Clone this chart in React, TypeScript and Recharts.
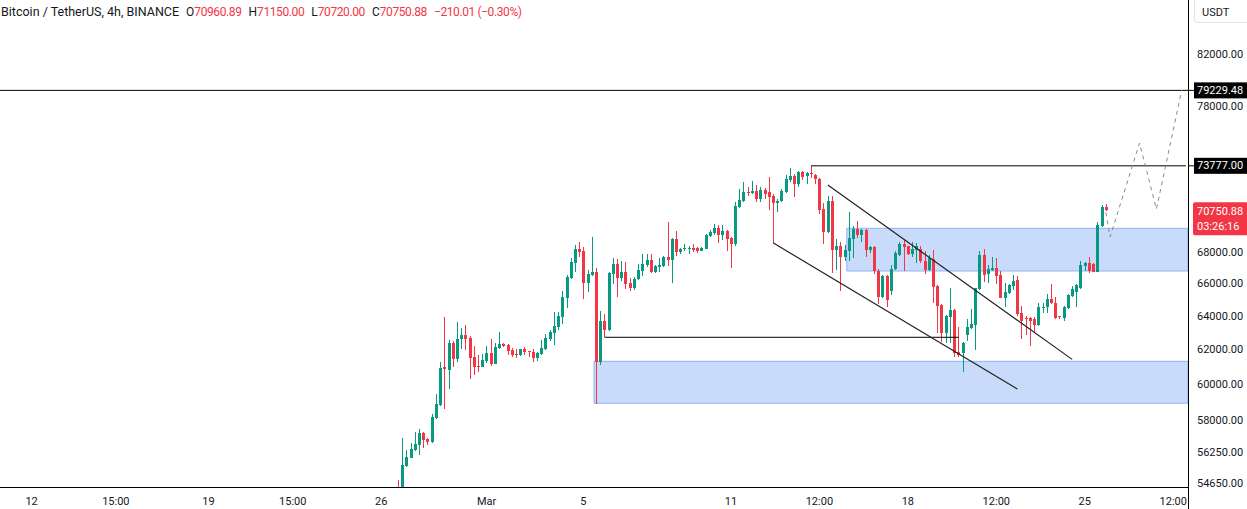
import React from 'react';
import { ComposedChart, Bar, Line, XAxis, YAxis, ReferenceLine, ReferenceArea } from 'recharts';

// ---------- DATA ----------
// 4h candles, first visible candle sits at FIRST_CANDLE_SLOT on the time axis
const FIRST_CANDLE_SLOT = 94;
const SLOT_COUNT = 282;

const OPEN = [
  // 87-117
  54400, 54300, 55550, 55980, 56400, 56660, 57300, 56970, 56820, 58130,
  58850, 61000, 60830, 62420, 61460, 62640, 62890, 62720, 61580, 61060,
  61000, 61340, 61810, 61170, 62100, 62340, 62280, 61990, 61780, 61690,
  62040,
  // 118-150
  61930, 61870, 61520, 61750, 62040, 62640, 62990, 63350, 63950, 65110,
  66350, 67300, 68190, 68070, 66040, 66540, 66730, 61290, 63710, 63170,
  66600, 67235, 66350, 66730, 66040, 65730, 66290, 66790, 67170, 67490,
  66730, 67050, 67110,
  // 151-216
  67680, 67490, 68840, 68000, 68190, 68230, 68260, 68260, 68070, 68190,
  69040, 69230, 69560, 69100, 69370, 68910, 68520, 70960, 71360, 71970,
  71900, 72040, 71500, 72110, 71970, 71700, 71230, 71360, 71970, 72790,
  73070, 72520, 73350, 73070, 73280, 73140, 72860, 70830, 69300, 71360,
  68130, 68390, 67680, 68070, 68840, 69500, 69100, 69430, 68130, 68320,
  66790, 65170, 66480, 65540, 66920, 67810, 68520, 68390, 67870, 68130,
  68190, 67430, 66850, 67550, 65850, 64680,
  // 217-255
  63000, 63970, 64370, 61850, 61790, 62870, 63270, 63450, 65665, 67810,
  66580, 66850, 66960, 66540, 65130, 65400, 65850, 66230, 64210, 63870,
  63870, 63810, 63470, 64540, 64540, 65060, 64790, 63990, 63870, 64480,
  65230, 65510, 65710, 67110, 67320, 67235, 66750, 69720, 70960.89,
];

const HIGH = [
  54800, 57040, 56400, 56750, 57360, 57520, 57350, 57040, 58350, 59460,
  61290, 63950, 62580, 62500, 63650, 63280, 63470, 62800, 62220, 61690,
  61750, 62220, 62640, 62400, 63050, 62400, 62320, 62100, 62040, 62060,
  62160,
  61960, 62040, 61870, 62580, 62930, 63160, 64250, 64250, 65540, 66540,
  67620, 68450, 68650, 68320, 66850, 68970, 66980, 64300, 64130, 66730,
  67620, 67550, 67430, 67360, 66350, 66410, 67235, 67870, 67870, 67870,
  67200, 67620, 67750,
  69960, 68880, 69370, 68260, 68520, 68390, 68520, 68300, 68330, 69170,
  69430, 69830, 69760, 69760, 69430, 68950, 71290, 72170, 72650, 72310,
  72720, 72450, 72310, 72240, 72990, 71830, 71500, 72170, 73140, 73630,
  73200, 73420, 73420, 73320, 73777, 73210, 72900, 71230, 71700, 71700,
  68840, 68650, 68450, 70620, 69690, 70030, 69500, 69480, 68390, 68390,
  66900, 66540, 66540, 67170, 68070, 68650, 68840, 68420, 68650, 68580,
  68390, 68070, 67810, 68130, 65910, 64740,
  64050, 65710, 64420, 63360, 62480, 63850, 64440, 65750, 68070, 68190,
  67170, 67700, 67600, 66790, 66020, 66000, 66540, 66480, 64620, 64010,
  63970, 63930, 64790, 64790, 65330, 65950, 65190, 64010, 64600, 65330,
  65850, 65950, 67450, 67350, 67700, 67320, 69960, 71100, 71150,
];

const LOW = [
  54000, 54100, 55500, 55950, 56350, 56130, 56520, 56660, 56800, 58100,
  58800, 58640, 59740, 61020, 61290, 62040, 61990, 60330, 60550, 60730,
  60980, 61230, 61050, 61150, 62050, 62160, 61690, 61590, 61520, 61640,
  61690,
  61590, 61290, 61360, 61720, 62000, 62520, 62280, 63170, 63530, 64500,
  66300, 66730, 67680, 65050, 65480, 66450, 58930, 61110, 62740, 63100,
  65980, 65170, 66160, 65665, 65540, 65600, 66230, 66480, 67050, 66700,
  66700, 66730, 67050,
  67110, 66040, 67750, 67870, 68060, 67870, 68000, 67940, 68050, 68190,
  68970, 69100, 68580, 68780, 68070, 66980, 68390, 70900, 71290, 71700,
  71830, 71290, 71290, 71500, 70760, 68600, 70620, 71290, 71900, 72650,
  71630, 72310, 72790, 72520, 72920, 72520, 70490, 68520, 69230, 66670,
  66850, 65540, 67430, 67430, 67620, 68910, 68650, 67680, 67940, 66600,
  64740, 65110, 64560, 65290, 66850, 67750, 66790, 67810, 67680, 67300,
  67300, 66600, 66820, 64800, 62990, 62460,
  62380, 62380, 61590, 61590, 60730, 62530, 63230, 61990, 65600, 66120,
  66050, 66790, 65976, 65100, 64540, 65360, 65600, 64010, 62620, 62870,
  62220, 62970, 63440, 64170, 64210, 64740, 63830, 63810, 63720, 64450,
  65150, 64580, 65650, 66800, 66700, 66740, 66740, 69650, 70720,
];

const CLOSE = [
  54200, 55600, 56020, 56450, 56715, 57300, 56930, 56820, 58180, 58900,
  60940, 60900, 62420, 61460, 62640, 62890, 62640, 61520, 61020, 61000,
  61400, 61810, 61170, 62160, 62340, 62220, 61930, 61690, 61720, 62040,
  61870,
  61870, 61520, 61810, 62100, 62700, 63050, 63410, 64010, 65170, 66410,
  67360, 68190, 68000, 66040, 66600, 66730, 61290, 63710, 63170, 66670,
  67235, 66350, 66730, 65976, 65730, 66290, 66850, 67235, 67490, 66730,
  67110, 67170, 67680,
  67490, 68840, 68000, 68190, 68260, 68260, 68130, 68070, 68260, 69100,
  69300, 69560, 69100, 69370, 68840, 68520, 71020, 71430, 71970, 71900,
  72040, 71500, 72110, 71835, 71630, 71230, 71360, 72040, 72860, 73070,
  72520, 73350, 72990, 73280, 73200, 72860, 70760, 69300, 71360, 68130,
  68390, 67680, 68130, 68910, 69500, 69100, 69430, 68130, 68320, 66790,
  65170, 66480, 64990, 66920, 67940, 68520, 68320, 67870, 68190, 68390,
  67430, 66850, 67620, 65790, 64620, 62990,
  64010, 64370, 61790, 61690, 62380, 63360, 63540, 65710, 67810, 66540,
  66920, 67000, 66480, 65130, 65510, 65910, 66190, 64130, 63740, 63810,
  63740, 63470, 64580, 64580, 65080, 64790, 63870, 63950, 64580, 65290,
  65640, 65910, 67170, 67320, 66790, 66750, 69760, 70961, 70750.88,
];

const X_TICK_SLOTS = [7, 27, 49, 69, 90, 115, 138, 173, 194, 215, 236, 257, 278];
const X_TICK_LABELS = ['12', '15:00', '19', '15:00', '26', 'Mar', '5', '11', '12:00', '18', '12:00', '25', '12:00'];

const PRICE_TICKS = [82000, 78000, 68000, 66000, 64000, 62000, 60000, 58000, 56250, 54650];
const TARGET_LEVEL = 79229.48;
const ATH_LEVEL = 73777;
const LAST_PRICE = 70750.88;
const COUNTDOWN = '03:26:16';

const PROJ_SLOTS = [262, 263, 270, 274, 280];
const PROJ_PRICES = [70600, 68980, 75380, 70820, 79229.48];

const CHANNEL_UPPER = [{ slot: 196, price: 72450 }, { slot: 254, price: 61443 }];
const CHANNEL_LOWER = [{ slot: 183, price: 68600 }, { slot: 241, price: 59745 }];
const SUPPORT_LINE = [{ slot: 143, price: 62740 }, { slot: 227, price: 62740 }];
const ATH_LINE = [{ slot: 192, price: ATH_LEVEL }, { slot: 281, price: ATH_LEVEL }];
const ZONES = [
  { fromSlot: 141, low: 58950, high: 61330 },
  { fromSlot: 201, low: 66796, high: 69546 },
];

const HEADER = { symbol: 'Bitcoin / TetherUS, 4h, BINANCE', o: '70960.89', h: '71150.00', l: '70720.00', c: '70750.88', chg: '\u2212210.01 (\u22120.30%)' };

// ---------- LAYOUT / STYLE ----------
const CHART_W = 1247;
const CHART_H = 509;
const Y_AXIS_W = 59;
const X_AXIS_H = 22;
const PLOT_RIGHT = CHART_W - Y_AXIS_W;
const PLOT_BOTTOM = CHART_H - X_AXIS_H;
const Y_DOMAIN: [number, number] = [54462, 86294];
const GREEN = '#089981';
const RED = '#f23645';
const TEXT = '#131722';
const FONT = 'Roboto, "Noto Sans", sans-serif';

const rows = Array.from({ length: SLOT_COUNT }, (_, s) => {
  const i = s - FIRST_CANDLE_SLOT;
  const has = i >= 0 && i < OPEN.length;
  const pj = PROJ_SLOTS.indexOf(s);
  return {
    slot: s,
    range: has ? [LOW[i], HIGH[i]] : null,
    o: has ? OPEN[i] : null,
    h: has ? HIGH[i] : null,
    l: has ? LOW[i] : null,
    c: has ? CLOSE[i] : null,
    proj: pj >= 0 ? PROJ_PRICES[pj] : null,
  };
});

const Candle = (props: any) => {
  const { x, y, width, height, payload } = props;
  if (!payload || payload.o == null || !isFinite(y) || !isFinite(height)) return <g />;
  const { o, h, l, c } = payload;
  const top = Math.min(y, y + height);
  const bot = Math.max(y, y + height);
  const lnH = Math.log(h);
  const span = lnH - Math.log(l);
  const py = (p: number) => (span > 0 ? top + ((bot - top) * (lnH - Math.log(p))) / span : top);
  const color = c >= o ? GREEN : RED;
  const bx = Math.round(x + width / 2 - 1.5);
  const bTop = Math.min(py(o), py(c));
  const bH = Math.max(1, Math.abs(py(o) - py(c)));
  return (
    <g>
      <rect x={bx + 1} y={top} width={1} height={Math.max(1, bot - top)} fill={color} shapeRendering="crispEdges" />
      <rect x={bx} y={bTop} width={3} height={bH} fill={color} shapeRendering="crispEdges" />
    </g>
  );
};

const XTick = (props: any) => {
  const { x, payload } = props;
  const idx = X_TICK_SLOTS.indexOf(payload.value);
  return (
    <text x={x} y={PLOT_BOTTOM + 14} textAnchor="middle" dominantBaseline="central" fontSize={11} fontFamily={FONT} fill={TEXT}>
      {idx >= 0 ? X_TICK_LABELS[idx] : ''}
    </text>
  );
};

const YTick = (props: any) => {
  const { y, payload } = props;
  const v = payload.value;
  const tx = PLOT_RIGHT + 9;
  if (v === TARGET_LEVEL || v === ATH_LEVEL) {
    return (
      <g>
        <line x1={PLOT_RIGHT} x2={PLOT_RIGHT + 7} y1={y} y2={y} stroke="#000" />
        <rect x={PLOT_RIGHT + 6} y={y - 8} width={60} height={16} fill="#000" />
        <text x={tx} y={y} dominantBaseline="central" fontSize={11} fontFamily={FONT} fill="#fff">{v.toFixed(2)}</text>
      </g>
    );
  }
  if (v === LAST_PRICE) {
    return (
      <g>
        <rect x={PLOT_RIGHT + 5} y={y - 8} width={62} height={33} fill={RED} rx={2} />
        <text x={tx} y={y + 1} dominantBaseline="central" fontSize={11} fontFamily={FONT} fill="#fff">{v.toFixed(2)}</text>
        <text x={tx} y={y + 16} dominantBaseline="central" fontSize={11} fontFamily={FONT} fill="#fff">{COUNTDOWN}</text>
      </g>
    );
  }
  return (
    <text x={tx} y={y} dominantBaseline="central" fontSize={11} fontFamily={FONT} fill={TEXT}>{v.toFixed(2)}</text>
  );
};

export default function App() {
  const yTicks = [...PRICE_TICKS, TARGET_LEVEL, ATH_LEVEL, LAST_PRICE];
  const lineStyle = { stroke: '#222', strokeWidth: 1.2 };
  const numStyle = { color: RED, letterSpacing: '-0.4px' };
  return (
    <div style={{ position: 'absolute', left: 0, top: 0, width: CHART_W, height: CHART_H, background: '#fff', overflow: 'hidden' }}>
      <ComposedChart width={CHART_W} height={CHART_H} data={rows} margin={{ top: 0, right: 0, bottom: 0, left: 0 }}>
        <XAxis
          dataKey="slot"
          type="category"
          ticks={X_TICK_SLOTS}
          interval={0}
          tick={<XTick />}
          tickLine={false}
          axisLine={{ stroke: '#000', shapeRendering: 'crispEdges' }}
          height={X_AXIS_H}
        />
        <YAxis
          orientation="right"
          type="number"
          scale="log"
          domain={Y_DOMAIN}
          allowDataOverflow
          ticks={yTicks}
          interval={0}
          tick={<YTick />}
          tickLine={false}
          axisLine={{ stroke: '#000', shapeRendering: 'crispEdges' }}
          width={Y_AXIS_W}
        />
        {ZONES.map((z, i) => (
          <ReferenceArea key={i} x1={z.fromSlot} y1={z.low} y2={z.high} fill="#c9dbfb" fillOpacity={1} stroke="#8fb3f3" strokeWidth={1} />
        ))}
        <Bar dataKey="range" barSize={3} shape={<Candle />} isAnimationActive={false} />
        <ReferenceLine y={TARGET_LEVEL} stroke="#000" strokeWidth={1} />
        <ReferenceLine segment={ATH_LINE.map((p) => ({ x: p.slot, y: p.price }))} stroke="#000" strokeWidth={1} />
        <ReferenceLine segment={SUPPORT_LINE.map((p) => ({ x: p.slot, y: p.price }))} stroke="#000" strokeWidth={1} />
        <ReferenceLine segment={CHANNEL_UPPER.map((p) => ({ x: p.slot, y: p.price }))} {...lineStyle} />
        <ReferenceLine segment={CHANNEL_LOWER.map((p) => ({ x: p.slot, y: p.price }))} {...lineStyle} />
        <Line dataKey="proj" type="linear" stroke="#8a8a8a" strokeWidth={1} strokeDasharray="4 4" dot={false} connectNulls isAnimationActive={false} />
      </ComposedChart>
      <div style={{ position: 'absolute', left: PLOT_RIGHT, top: PLOT_BOTTOM, width: 1, height: X_AXIS_H, background: '#000' }} />
      <div style={{ position: 'absolute', left: PLOT_RIGHT + 6, top: -4, width: 64, height: 27, border: '1px solid #e0e3eb', borderRadius: 4, background: '#fff', boxSizing: 'border-box' }} />
      <div style={{ position: 'absolute', left: PLOT_RIGHT + 14, top: 6, fontSize: 11, fontFamily: FONT, color: TEXT, lineHeight: '14px' }}>USDT</div>
      <div style={{ position: 'absolute', left: 1, top: 4, fontSize: 12.5, fontFamily: FONT, color: TEXT, whiteSpace: 'nowrap', lineHeight: '15px' }}>
        <span>{HEADER.symbol}</span>
        <span style={{ marginLeft: 7, fontSize: 12 }}>O<span style={numStyle}>{HEADER.o}</span></span>
        <span style={{ marginLeft: 7, fontSize: 12 }}>H<span style={numStyle}>{HEADER.h}</span></span>
        <span style={{ marginLeft: 7, fontSize: 12 }}>L<span style={numStyle}>{HEADER.l}</span></span>
        <span style={{ marginLeft: 7, fontSize: 12 }}>C<span style={numStyle}>{HEADER.c}</span></span>
        <span style={{ marginLeft: 7, fontSize: 12, ...numStyle }}>{HEADER.chg}</span>
      </div>
    </div>
  );
}
